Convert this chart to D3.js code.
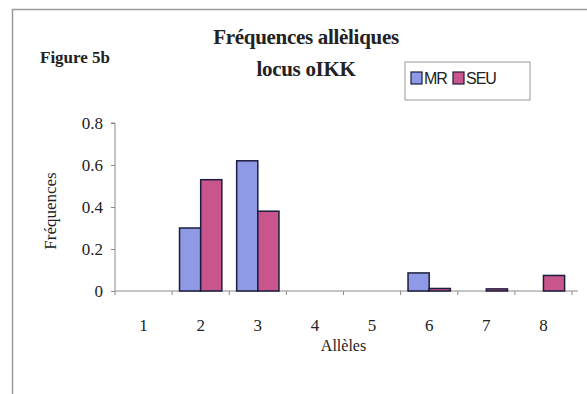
<!DOCTYPE html>
<html>
<head>
<meta charset="utf-8">
<script src="https://cdn.jsdelivr.net/npm/d3@7"></script>
<style>
  body { margin: 0; background: #fff; }
  svg { display: block; }
  .tick text { font-family: "Liberation Serif", "Times New Roman", serif; font-size: 17px; fill: #222; }
  .axis path, .axis line { stroke: #8a8a8a; }
</style>
</head>
<body>
<div id="chart"></div>
<script>
// data
const alleles = ["1", "2", "3", "4", "5", "6", "7", "8"];
const seriesNames = ["MR", "SEU"];
const mrValues = [0, 0.30, 0.62, 0, 0, 0.086, 0, 0];
const seuValues = [0, 0.53, 0.38, 0, 0, 0.012, 0.01, 0.074];
const yTicks = [0, 0.2, 0.4, 0.6, 0.8];
const colors = ["#8e9ae6", "#c9558d"];

const width = 587, height = 394;
const margin = { top: 123, right: 15, bottom: 103, left: 115 };

const svg = d3.select("#chart").append("svg")
    .attr("width", width)
    .attr("height", height);

// outer frame (only top and left edges show in the scan)
svg.append("path")
    .attr("d", `M12.5 ${height} V9.5 H${width}`)
    .attr("fill", "none")
    .attr("stroke", "#9a9a9a")
    .attr("stroke-width", 1.5);

const x = d3.scaleBand()
    .domain(alleles)
    .range([margin.left, width - margin.right]);

const xSub = d3.scaleBand()
    .domain(seriesNames)
    .range([0, x.bandwidth()])
    .paddingInner(0)
    .paddingOuter(0.35);

const y = d3.scaleLinear()
    .domain([0, 0.8])
    .range([height - margin.bottom, margin.top]);

// y axis
svg.append("g")
    .attr("class", "axis")
    .attr("transform", `translate(${margin.left},0)`)
    .call(d3.axisLeft(y).tickValues(yTicks).tickSize(4).tickPadding(8)
        .tickFormat(d => d === 0 ? "0" : d3.format(".1f")(d)))
    .call(g => g.select(".domain").attr("d", `M-4,${y(0.8)}H0V${y(0)}`));

// x axis, ticks sit between categories
const xAxis = svg.append("g")
    .attr("class", "axis")
    .attr("transform", `translate(0,${y(0)})`);
xAxis.append("path")
    .attr("d", `M${margin.left},0H${width - margin.right + 6}`)
    .attr("stroke", "#8a8a8a");
xAxis.selectAll("line.sep")
    .data(d3.range(alleles.length + 1))
    .join("line")
    .attr("x1", i => margin.left + i * x.step())
    .attr("x2", i => margin.left + i * x.step())
    .attr("y1", 0).attr("y2", 4);
xAxis.selectAll("text")
    .data(alleles)
    .join("text")
    .attr("x", d => x(d) + x.bandwidth() / 2)
    .attr("y", 40)
    .attr("text-anchor", "middle")
    .style("font-family", "Liberation Serif, serif")
    .style("font-size", "17px")
    .attr("fill", "#222")
    .text(d => d);

// bars
const rows = alleles.map((a, i) => ({ allele: a, values: [mrValues[i], seuValues[i]] }));

const groups = svg.selectAll("g.group")
    .data(rows)
    .join("g")
    .attr("class", "group")
    .attr("transform", d => `translate(${x(d.allele)},0)`);

groups.selectAll("rect")
    .data(d => d.values.map((v, k) => ({ name: seriesNames[k], value: v, k: k })).filter(e => e.value > 0))
    .join("rect")
    .attr("x", d => xSub(d.name))
    .attr("y", d => y(d.value))
    .attr("width", xSub.bandwidth())
    .attr("height", d => y(0) - y(d.value))
    .attr("fill", d => colors[d.k])
    .attr("stroke", "#1c1d3c")
    .attr("stroke-width", 1.5);

// titles
const title = svg.append("text")
    .attr("text-anchor", "middle")
    .style("font-family", "Liberation Serif, serif")
    .style("font-weight", "bold")
    .style("font-size", "21px")
    .style("letter-spacing", "-0.3px")
    .attr("fill", "#222");
title.append("tspan").attr("x", 306).attr("y", 44).text("Fréquences allèliques");
title.append("tspan").attr("x", 306).attr("y", 76).text("locus oIKK");

svg.append("text")
    .attr("x", 40).attr("y", 63)
    .style("font-family", "Liberation Serif, serif")
    .style("font-weight", "bold")
    .style("font-size", "17px")
    .attr("fill", "#222")
    .text("Figure 5b");

// axis titles
svg.append("text")
    .attr("transform", `translate(56,${(y(0) + y(0.8)) / 2 + 4}) rotate(-90)`)
    .attr("text-anchor", "middle")
    .style("font-family", "Liberation Serif, serif")
    .style("font-size", "17px")
    .attr("fill", "#222")
    .text("Fréquences");

svg.append("text")
    .attr("x", (margin.left + width - margin.right) / 2)
    .attr("y", 351)
    .attr("text-anchor", "middle")
    .style("font-family", "Liberation Serif, serif")
    .style("font-size", "16px")
    .attr("fill", "#222")
    .text("Allèles");

// legend
const legend = svg.append("g").attr("transform", "translate(405,62)");
legend.append("rect")
    .attr("width", 125).attr("height", 38)
    .attr("fill", "#fff")
    .attr("stroke", "#9a9a9a");
const items = legend.selectAll("g.item")
    .data(seriesNames)
    .join("g")
    .attr("class", "item")
    .attr("transform", (d, i) => `translate(${6 + i * 42},10)`);
items.append("rect")
    .attr("width", 11).attr("height", 12)
    .attr("fill", (d, i) => colors[i])
    .attr("stroke", "#1c1d3c")
    .attr("stroke-width", 1.2);
items.append("text")
    .attr("x", 13).attr("y", 12)
    .style("font-family", "Liberation Sans, Arial, sans-serif")
    .style("font-size", "16px")
    .style("letter-spacing", "-1px")
    .attr("fill", "#222")
    .text(d => d);
</script>
</body>
</html>
